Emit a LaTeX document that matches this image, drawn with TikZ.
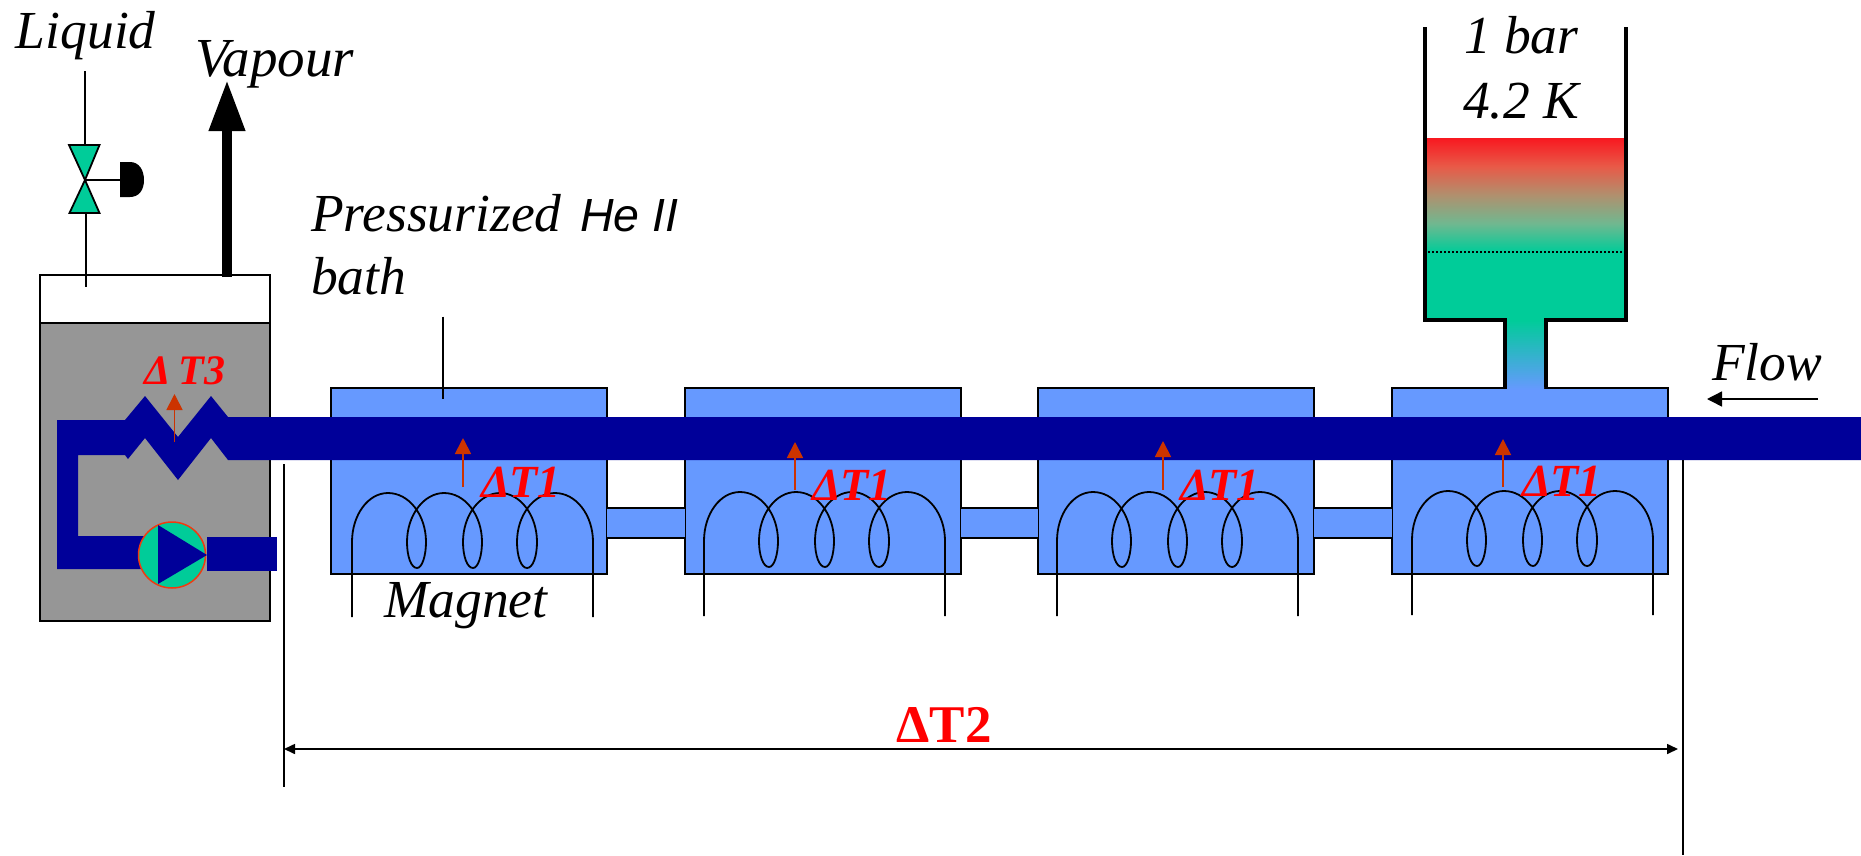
\documentclass[tikz,border=0pt]{standalone}
\usepackage{fontspec}
\setmainfont{Liberation Serif}
\newfontfamily\arialf{Liberation Sans}
\usetikzlibrary{arrows.meta,shapes.geometric}
\definecolor{magblue}{HTML}{6699FF}
\definecolor{pipeblue}{HTML}{000099}
\definecolor{hegreen}{HTML}{00CC99}
\definecolor{tankgray}{HTML}{969696}
\definecolor{heatred}{HTML}{CC3300}
\definecolor{hotred}{HTML}{F81820}
\definecolor{pumpred}{HTML}{F03A10}
\definecolor{gradb}{HTML}{70B890}
\definecolor{gradc}{HTML}{B0906E}
\definecolor{gradd}{HTML}{E85A48}
\pgfdeclareverticalshading{bathfade}{100bp}{color(0bp)=(hegreen); color(25bp)=(hegreen); color(37.5bp)=(gradb); color(50bp)=(gradc); color(62.5bp)=(gradd); color(75bp)=(hotred); color(100bp)=(hotred)}
\newcommand{\coilshape}[2]{%
\begin{scope}[shift={(#1,#2)}]
\draw[coilline] (352,617) -- (352,542)
 .. controls (352,515) and (368,493) .. (388,493)
 .. controls (409,493) and (426,515) .. (426,542)
 .. controls (426,556) and (422,568) .. (417,568)
 .. controls (411,568) and (407,556) .. (407,542)
 .. controls (407,515) and (424,493) .. (444,493)
 .. controls (465,493) and (482,515) .. (482,542)
 .. controls (482,556) and (478,568) .. (473,568)
 .. controls (467,568) and (463,556) .. (463,542)
 .. controls (463,515) and (480,493) .. (500,493)
 .. controls (520,493) and (537,515) .. (537,542)
 .. controls (537,556) and (533,568) .. (527,568)
 .. controls (521,568) and (517,556) .. (517,542)
 .. controls (517,515) and (534,493) .. (555,493)
 .. controls (576,493) and (593,515) .. (593,542) -- (593,617);
\end{scope}}
\tikzset{
 txt/.style={inner sep=0pt,outer sep=0pt,anchor=base west,font=\fontsize{53.5}{53.5}\selectfont\itshape},
 dtone/.style={inner sep=0pt,outer sep=0pt,anchor=base west,text=red,font=\fontsize{46}{46}\selectfont\bfseries\itshape},
 magbox/.style={draw=black,line width=1.8pt,fill=magblue,minimum width=276pt,minimum height=186pt,inner sep=0pt,outer sep=0pt,anchor=north west},
 coilline/.style={draw=black,line width=1.8pt},
 thin line/.style={draw=black,line width=1.8pt},
 heat/.style={draw=heatred,line width=1.8pt,-{Triangle[length=16pt,width=16pt]}},
 vesselwall/.style={draw=black,line width=3.4pt},
}
\begin{document}
\begin{tikzpicture}[x=1pt,y=-1pt]
\useasboundingbox (0,0) rectangle (1861,855);
% cold box
\fill[white] (40,275) rectangle (270,323);
\fill[tankgray] (40,323) rectangle (270,621);
\draw[black,line width=1.8pt] (40,275) rectangle (270,621);
\draw[black,line width=1.8pt] (40,323) -- (270,323);
% magnet boxes
\node[magbox] (box1) at (331,388) {};
\node[magbox] (box2) at (685,388) {};
\node[magbox] (box3) at (1038,388) {};
\node[magbox] (box4) at (1392,388) {};
% interconnects
\foreach \a/\b in {607/685,961/1038,1314/1392}{
 \fill[magblue] (\a,508) rectangle (\b,538);
 \draw[thin line] (\a,508) -- (\b,508) (\a,538) -- (\b,538);
}
% coils
\coilshape{0}{0}
\coilshape{352}{-1}
\coilshape{705}{-1}
\coilshape{1060}{-2}
% saturated bath
\shade[shading=bathfade] (1427,138) rectangle (1624,252);
\fill[hegreen] (1427,252) rectangle (1624,320);
\shade[top color=hegreen,bottom color=magblue] (1507,320) rectangle (1544,389.5);
\draw[black,line width=1.2pt,dash pattern=on 2pt off 2pt] (1428,252) -- (1624,252);
\draw[vesselwall,line cap=butt] (1425,27) -- (1425,320) -- (1505,320) -- (1505,387);
\draw[vesselwall,line cap=butt] (1626,27) -- (1626,320) -- (1546,320) -- (1546,387);
% heat exchanger line
\fill[pipeblue] (1861,417) -- (228,417) -- (211,396) -- (178,437) -- (145,396) -- (125,420) -- (57,420) -- (57,569)
 -- (150,569) -- (150,536) -- (78,536) -- (78,455) -- (125,455) -- (128,459) -- (145,438) -- (178,480) -- (211,438) -- (228,460) -- (1861,460) -- cycle;
% pump
\node[ellipse,draw=pumpred,fill=hegreen,line width=1.5pt,minimum width=67pt,minimum height=66pt,inner sep=0pt,outer sep=0pt] (pumpc) at (172,555) {};
\fill[pipeblue] (158,525) -- (158,584) -- (207,555) -- cycle;
\fill[pipeblue] (207,537) rectangle (277,571);
% vapour
\coordinate (vapfrom) at (227,277);
\coordinate (vapto) at (227,80);
\draw[black,line width=10pt,-{Triangle[length=51pt,width=34pt]}] (vapfrom) -- (vapto);
% valve
\coordinate (liqin) at (85,71);
\coordinate (valvetop) at (85,145);
\coordinate (valvemid) at (85,180);
\coordinate (valvebot) at (86,213);
\coordinate (liqout) at (86,287);
\coordinate (actuator) at (120,180);
\draw[thin line] (liqin) -- (valvetop);
\draw[thin line] (valvebot) -- (liqout);
\draw[thin line] (valvemid) -- (actuator);
\filldraw[fill=hegreen,draw=black,line width=1.8pt] (69,145) -- (99.5,145) -- (85,180) -- cycle;
\filldraw[fill=hegreen,draw=black,line width=1.8pt] (69.5,213) -- (99.5,213) -- (85,180) -- cycle;
\fill[black] (120,162) -- (130,162) .. controls (139,162) and (144,170) .. (144,180) .. controls (144,190) and (139,197) .. (130,197) -- (120,197) -- cycle;
% bath leader
\node[inner sep=0pt,outer sep=0pt] (leadertop) at (443,316) {};
\node[inner sep=0pt,outer sep=0pt] (leaderbot) at (443,399) {};
\draw[thin line] (leadertop) -- (leaderbot);
% heat arrows
\foreach \x/\ya/\yb in {174.5/442/394,463/487/438,795/490/442,1163/490/441,1503/487/439}{
 \draw[heat] (\x,\ya) -- (\x,\yb);
}
% dimension
\coordinate (dimL) at (284,749);
\coordinate (dimR) at (1683,749);
\coordinate (dimtip) at (1678,749);
\draw[thin line] (284,464) -- (dimL) -- (284,787);
\draw[thin line] (1683,460) -- (dimR) -- (1683,855);
\draw[draw=black,line width=1.6pt,{Triangle[length=11pt,width=10pt]}-{Triangle[length=11pt,width=10pt]}] (dimL) -- (dimtip);
% flow
\coordinate (flowa) at (1818,399);
\coordinate (flowb) at (1707,399);
\draw[draw=black,line width=1.5pt,-{Triangle[length=15pt,width=15pt]}] (flowa) -- (flowb);
% texts
\node[txt] (tliq) at (16,48) {Liquid};
\node[txt,font=\fontsize{55}{55}\selectfont\itshape] (tvap) at (195,76) {Vapour};
\node[txt] (tpress) at (311,231) {Pressurized\ \kern5pt{\arialf\fontsize{46.5}{46.5}\selectfont He II}};
\node[txt] (tbath) at (311,294) {bath};
\node[txt] (tmag) at (384,617) {Magnet};
\node[txt] (t1bar) at (1464,53) {1 bar};
\node[txt] (t42k) at (1463,118) {4.2 K};
\node[txt] (tflow) at (1712,380) {Flow};
\node[dtone,font=\fontsize{42}{42}\selectfont\bfseries\itshape] (dt3) at (144,384) {Δ\kern-2pt\ T3};
\node[dtone] (dt1a) at (481,497) {ΔT1};
\node[dtone] (dt1b) at (812,500) {ΔT1};
\node[dtone] (dt1c) at (1180,500) {ΔT1};
\node[dtone] (dt1d) at (1522,496) {ΔT1};
\node[inner sep=0pt,outer sep=0pt,anchor=base,text=red,font=\fontsize{53}{53}\selectfont\bfseries] (dt2) at (944,742) {ΔT2};
\end{tikzpicture}
\end{document}
